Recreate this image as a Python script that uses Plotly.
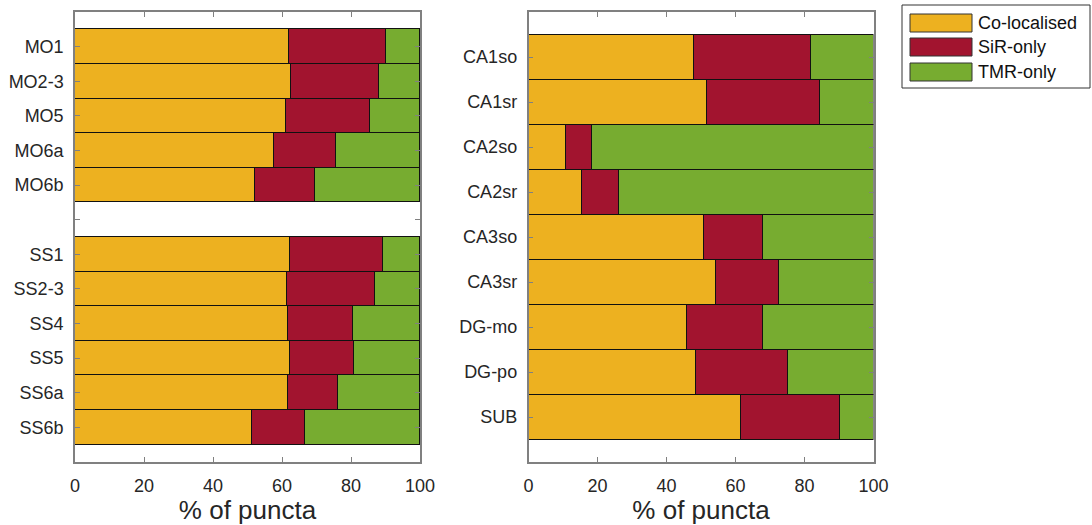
import plotly.graph_objects as go

# ---------------- data ----------------
series_names = ["Co-localised", "SiR-only", "TMR-only"]
series_colors = ["#EDB120", "#A2142F", "#77AC30"]

mo_labels = ["MO1", "MO2-3", "MO5", "MO6a", "MO6b"]
mo_coloc = [62.0, 62.6, 61.1, 57.6, 52.2]
mo_sir = [28.1, 25.5, 24.3, 18.0, 17.3]
mo_tmr = [9.9, 11.9, 14.6, 24.4, 30.5]

ss_labels = ["SS1", "SS2-3", "SS4", "SS5", "SS6a", "SS6b"]
ss_coloc = [62.4, 61.5, 61.8, 62.4, 61.8, 51.2]
ss_sir = [26.8, 25.4, 18.7, 18.4, 14.3, 15.4]
ss_tmr = [10.8, 13.1, 19.5, 19.2, 23.9, 33.4]

hp_labels = ["CA1so", "CA1sr", "CA2so", "CA2sr", "CA3so", "CA3sr", "DG-mo", "DG-po", "SUB"]
hp_coloc = [47.8, 51.7, 10.7, 15.4, 50.7, 54.1, 45.9, 48.4, 61.4]
hp_sir = [33.9, 32.6, 7.5, 10.8, 17.2, 18.5, 21.8, 26.8, 28.7]
hp_tmr = [18.3, 15.7, 81.8, 73.8, 32.1, 27.4, 32.3, 24.8, 9.9]

x_ticks = [0, 20, 40, 60, 80, 100]
x_title = "% of puncta"

# ---------------- figure ----------------
W, H = 1092, 525
FONT = "Liberation Sans, Arial, Helvetica, sans-serif"
TXT = "#262626"
AX = "#808080"

fig = go.Figure()

# left panel: MO rows, a blank spacer row, SS rows
left_labels = mo_labels + [""] + ss_labels
left_pos_mo = list(range(len(mo_labels)))
left_pos_ss = [len(mo_labels) + 1 + i for i in range(len(ss_labels))]
left_series = [
    (mo_coloc, ss_coloc),
    (mo_sir, ss_sir),
    (mo_tmr, ss_tmr),
]
for (mo_v, ss_v), name, col in zip(left_series, series_names, series_colors):
    fig.add_trace(go.Bar(
        x=mo_v + ss_v, y=left_pos_mo + left_pos_ss, orientation="h",
        name=name, marker=dict(color=col, line=dict(color="#111111", width=1)),
        width=1, xaxis="x", yaxis="y", showlegend=False,
    ))

hp_pos = list(range(len(hp_labels)))
for vals, name, col in zip([hp_coloc, hp_sir, hp_tmr], series_names, series_colors):
    fig.add_trace(go.Bar(
        x=vals, y=hp_pos, orientation="h",
        name=name, marker=dict(color=col, line=dict(color="#111111", width=1)),
        width=1, xaxis="x2", yaxis="y2", showlegend=False,
    ))

def px_x(p):
    return p / W

def px_y(p):
    return 1 - p / H

y_dom = [px_y(462), px_y(12)]

xaxis_common = dict(
    range=[0, 100], tickvals=x_ticks, ticktext=[str(v) for v in x_ticks],
    ticks="inside", ticklen=5, tickcolor=AX, tickwidth=1,
    showline=True, linecolor=AX, linewidth=1.5, mirror="ticks",
    showgrid=False, zeroline=False, automargin=False,
    tickfont=dict(size=18, color=TXT, family=FONT),
    ticklabelstandoff=7,
    title=dict(text=x_title, font=dict(size=26, color=TXT, family=FONT), standoff=6),
)
yaxis_common = dict(
    ticks="inside", ticklen=5, tickcolor=AX, tickwidth=1,
    showline=True, linecolor=AX, linewidth=1.5, mirror="ticks",
    showgrid=False, zeroline=False, automargin=False,
    tickfont=dict(size=18, color=TXT, family=FONT),
    ticklabelstandoff=6, domain=y_dom,
)

fig.update_layout(
    template="none",
    width=W, height=H,
    margin=dict(l=0, r=0, t=0, b=0, pad=0),
    paper_bgcolor="white", plot_bgcolor="white",
    barmode="stack", bargap=0,
    showlegend=False,
    font=dict(family=FONT, color=TXT),
    xaxis=dict(xaxis_common, domain=[px_x(75), px_x(420)], anchor="y"),
    yaxis=dict(yaxis_common, anchor="x",
               range=[len(left_labels), -1],
               tickvals=list(range(len(left_labels))), ticktext=left_labels),
    xaxis2=dict(xaxis_common, domain=[px_x(528.5), px_x(873.5)], anchor="y2"),
    yaxis2=dict(yaxis_common, anchor="x2",
                range=[len(hp_labels), -1],
                tickvals=hp_pos, ticktext=hp_labels),
)

# custom legend box with wide swatches (MATLAB style)
shapes = [dict(type="rect", xref="paper", yref="paper",
               x0=px_x(902), x1=px_x(1090), y0=px_y(88), y1=px_y(5),
               line=dict(color="#333333", width=1), fillcolor="white")]
annotations = []
row_tops = [14, 38, 63]
for name, col, top in zip(series_names, series_colors, row_tops):
    shapes.append(dict(type="rect", xref="paper", yref="paper",
                       x0=px_x(910), x1=px_x(972), y0=px_y(top + 18), y1=px_y(top),
                       line=dict(color="#333333", width=1), fillcolor=col))
    annotations.append(dict(xref="paper", yref="paper", x=px_x(976), y=px_y(top + 9),
                            text=name, showarrow=False, xanchor="left", yanchor="middle",
                            font=dict(size=18, color="#111111", family=FONT)))
fig.update_layout(shapes=shapes, annotations=annotations)

# remove the default page margin so the figure sits at the window's top-left corner
fig.write_html(
    "out.html",
    config={"displayModeBar": False},
    post_script="document.body.style.margin='0';document.body.style.overflow='hidden';",
)
